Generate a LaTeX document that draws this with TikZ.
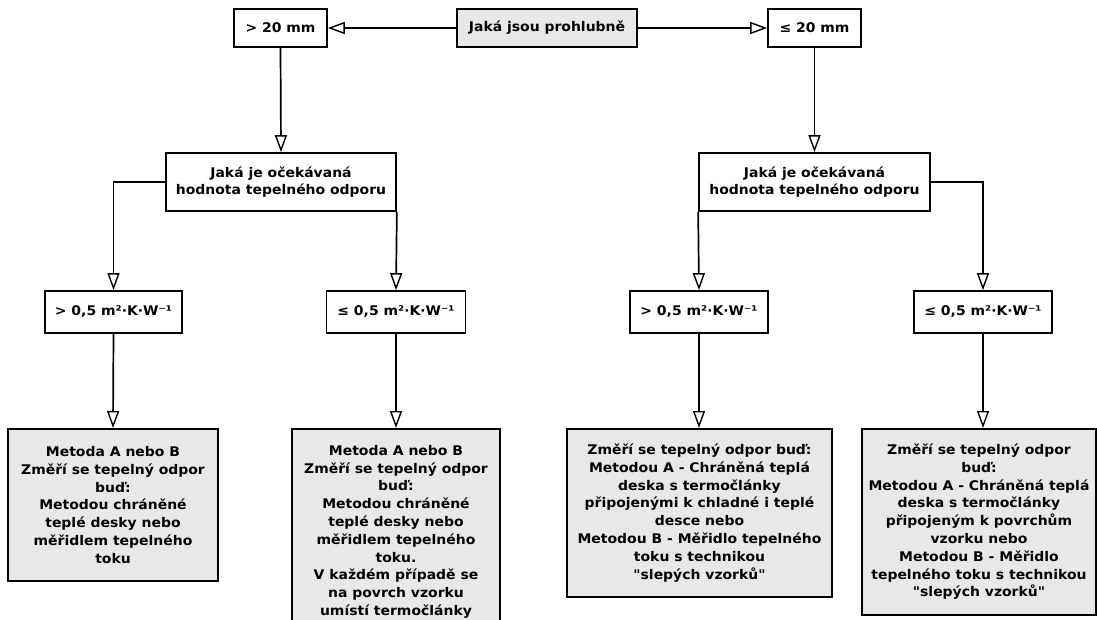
\documentclass[tikz,border=0pt]{standalone}
\usepackage{fontspec}
\setmainfont{DejaVu Sans}[FakeStretch=1.05, Ligatures=TeXOff]
\usetikzlibrary{arrows.meta}
\begin{document}
\begin{tikzpicture}[x=1pt,y=-1pt,
  box/.style={draw=black, line width=1.7pt, fill=white, align=center, inner sep=2pt,
    font=\fontsize{13.3}{17.8}\selectfont\bfseries},
  gbox/.style={box, fill=boxgray},
  arr/.style={line width=1.7pt, -{Triangle[open,length=17pt,width=12pt,line width=1.4pt]}}]
\definecolor{boxgray}{HTML}{E8E8E8}
\useasboundingbox (0,0) rectangle (1097,619);
\clip (0,0) rectangle (1097,619);
% top row
\node[gbox, minimum width=180pt, minimum height=38pt] (c) at (547,28) {Jaká jsou prohlubně};
\node[box, minimum width=93pt, minimum height=38pt] (t1) at (280.5,28) {> 20 mm};
\node[box, minimum width=93pt, minimum height=38pt] (t2) at (814.5,28) {≤ 20 mm};
% questions
\node[box, minimum width=230pt, minimum height=58pt] (m1) at (281,182) {Jaká je očekávaná\\hodnota tepelného odporu};
\node[box, minimum width=231pt, minimum height=58pt] (m2) at (814.5,182) {Jaká je očekávaná\\hodnota tepelného odporu};
% level 3
\node[box, minimum width=137pt, minimum height=42pt] (l1) at (113.5,312) {> 0,5 m²·K·W⁻¹};
\node[box, minimum width=139pt, minimum height=42pt] (l2) at (396,312) {≤ 0,5 m²·K·W⁻¹};
\node[box, minimum width=138pt, minimum height=42pt] (r1) at (699,312) {> 0,5 m²·K·W⁻¹};
\node[box, minimum width=138pt, minimum height=42pt] (r2) at (983,312) {≤ 0,5 m²·K·W⁻¹};
% bottom
\node[gbox, anchor=north, minimum width=210pt, minimum height=152pt] (b1) at (113,428)
  {Metoda A nebo B\\Změří se tepelný odpor\\buď:\\Metodou chráněné\\teplé desky nebo\\měřidlem tepelného\\toku};
\node[gbox, anchor=north, minimum width=208pt, minimum height=206pt] (b2) at (396,428)
  {Metoda A nebo B\\Změří se tepelný odpor\\buď:\\Metodou chráněné\\teplé desky nebo\\měřidlem tepelného\\toku.\\V každém případě se\\na povrch vzorku\\umístí termočlánky};
\node[gbox, anchor=north, minimum width=265pt, minimum height=168pt] (b3) at (699.5,428)
  {Změří se tepelný odpor buď:\\Metodou A - Chráněná teplá\\deska s termočlánky\\připojenými k chladné i teplé\\desce nebo\\Metodou B - Měřidlo tepelného\\toku s technikou\\"slepých vzorků"};
\node[gbox, anchor=north, minimum width=234pt, minimum height=186pt] (b4) at (979,428)
  {Změří se tepelný odpor\\buď:\\Metodou A - Chráněná teplá\\deska s termočlánky\\připojeným k povrchům\\vzorku nebo\\Metodou B - Měřidlo\\tepelného toku s technikou\\"slepých vzorků"};
% connectors
\draw[arr] (c.west) -- (t1.east);
\draw[arr] (c.east) -- (t2.west);
\draw[arr] (t1.south) -- (m1.north);
\draw[arr] (t2.south) -- (m2.north);
\draw[arr] (m1.west) -| (l1.north);
\draw[arr] (m1.south east) -- (l2.north);
\draw[arr] (m2.south west) -- (r1.north);
\draw[arr] (m2.east) -| (r2.north);
\draw[arr] (l1.south) -- (b1.north);
\draw[arr] (l2.south) -- (b2.north);
\draw[arr] (r1.south) -- (r1.south |- b3.north);
\draw[arr] (r2.south) -- (r2.south |- b4.north);
\end{tikzpicture}
\end{document}
